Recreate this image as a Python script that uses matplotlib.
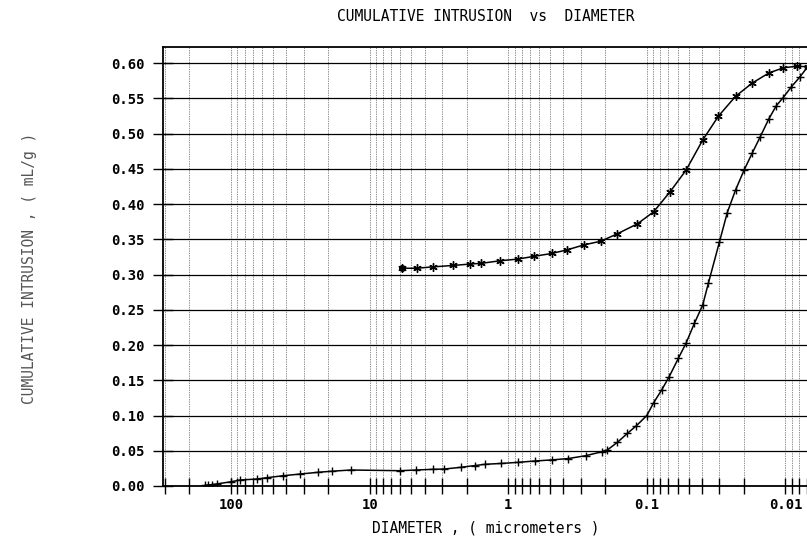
import numpy as np
import matplotlib
matplotlib.use("Agg")
import matplotlib.pyplot as plt
from matplotlib.ticker import FixedLocator, FuncFormatter, NullFormatter

# intrusion (pressurising) branch, diameter in micrometers / cumulative mL/g
intr_d = [154, 146, 138, 126, 100, 86, 65, 55, 42, 31.6, 23.7, 18.7, 13.6,
          6.06, 4.6, 3.48, 2.92, 2.2, 1.74, 1.47, 1.12, 0.846, 0.64, 0.485,
          0.368, 0.276, 0.21, 0.193, 0.163, 0.138, 0.119, 0.1, 0.0894, 0.0783,
          0.069, 0.0593, 0.0522, 0.0454, 0.0395, 0.036, 0.0299, 0.0263, 0.0229,
          0.0199, 0.0173, 0.0152, 0.0132, 0.01165, 0.0104, 0.0091, 0.0079,
          0.0069]
intr_v = [0.001, 0.0015, 0.002, 0.003, 0.006, 0.0085, 0.0099, 0.0118, 0.0146,
          0.017, 0.0194, 0.021, 0.0227, 0.0217, 0.0227, 0.0237, 0.024, 0.0265,
          0.029, 0.0308, 0.032, 0.0336, 0.0355, 0.037, 0.039, 0.043, 0.0487,
          0.051, 0.062, 0.0747, 0.0855, 0.10, 0.118, 0.136, 0.155, 0.181,
          0.2024, 0.2307, 0.257, 0.2875, 0.3466, 0.3877, 0.42, 0.448, 0.473,
          0.4955, 0.5206, 0.5395, 0.551, 0.566, 0.58, 0.595]

# extrusion (depressurising) branch
ext_d = [0.0069, 0.0083, 0.0104, 0.0132, 0.0173, 0.0229, 0.0304, 0.0395,
         0.0522, 0.068, 0.0894, 0.117, 0.163, 0.214, 0.286, 0.378, 0.486,
         0.648, 0.856, 1.15, 1.56, 1.88, 2.49, 3.48, 4.59, 5.89]
ext_v = [0.595, 0.5957, 0.5934, 0.586, 0.572, 0.553, 0.525, 0.491, 0.448,
         0.4175, 0.389, 0.372, 0.358, 0.3475, 0.342, 0.335, 0.330, 0.326,
         0.322, 0.3196, 0.316, 0.315, 0.313, 0.311, 0.309, 0.309]

decades = [100, 10, 1, 0.1, 0.01]
y_ticks = np.arange(0, 0.601, 0.05)

plt.rcParams['font.family'] = ['DejaVu Sans Mono', 'DejaVu Sans']

fig = plt.figure(figsize=(8.07, 5.36), dpi=100)
ax = fig.add_axes([0.202, 0.0933, 0.80, 0.819])

ax.plot(intr_d, intr_v, color='black', lw=1.1, marker='+', ms=6, mew=1.0)
ax.plot(ext_d, ext_v, color='black', lw=1.1, marker=(6, 2, 0), ms=6, mew=1.0)
ax.plot(ext_d[-1], ext_v[-1], 'o', color='black', ms=4)

ax.set_xscale('log')
ax.set_xlim(310, 0.0068)
ax.set_ylim(0, 0.623)

minor = [m * 10.0 ** e for e in range(-3, 3) for m in range(2, 10)]
ax.xaxis.set_major_locator(FixedLocator(decades))
ax.xaxis.set_minor_locator(FixedLocator(minor))
ax.xaxis.set_major_formatter(FuncFormatter(lambda v, p: '%g' % v))
ax.xaxis.set_minor_formatter(NullFormatter())
ax.set_yticks(y_ticks)
ax.yaxis.set_major_formatter(FuncFormatter(lambda v, p: '%.2f' % v))

ax.grid(True, which='both', axis='x', color='#222222', lw=0.5, ls=(0, (1, 1.5)))
ax.grid(True, which='major', axis='y', color='black', lw=0.9, ls='-')

ax.tick_params(axis='x', which='both', direction='inout', length=12, width=1.0,
               labelsize=10, pad=3)
ax.tick_params(axis='y', which='major', direction='inout', length=14, width=1.0,
               labelsize=10, pad=6)
for lab in ax.get_xticklabels() + ax.get_yticklabels():
    lab.set_fontweight('bold')
for s in ax.spines.values():
    s.set_linewidth(1.3)

ax.set_title('CUMULATIVE INTRUSION  vs  DIAMETER', fontsize=10.5, pad=19)
ax.set_xlabel('DIAMETER , ( micrometers )', fontsize=10.5, labelpad=6)
fig.text(0.037, 0.50, 'CUMULATIVE INTRUSION , ( mL/g )', rotation=90,
         fontsize=10.5, color='#555555', ha='center', va='center')

fig.savefig('out.png', dpi=100)
